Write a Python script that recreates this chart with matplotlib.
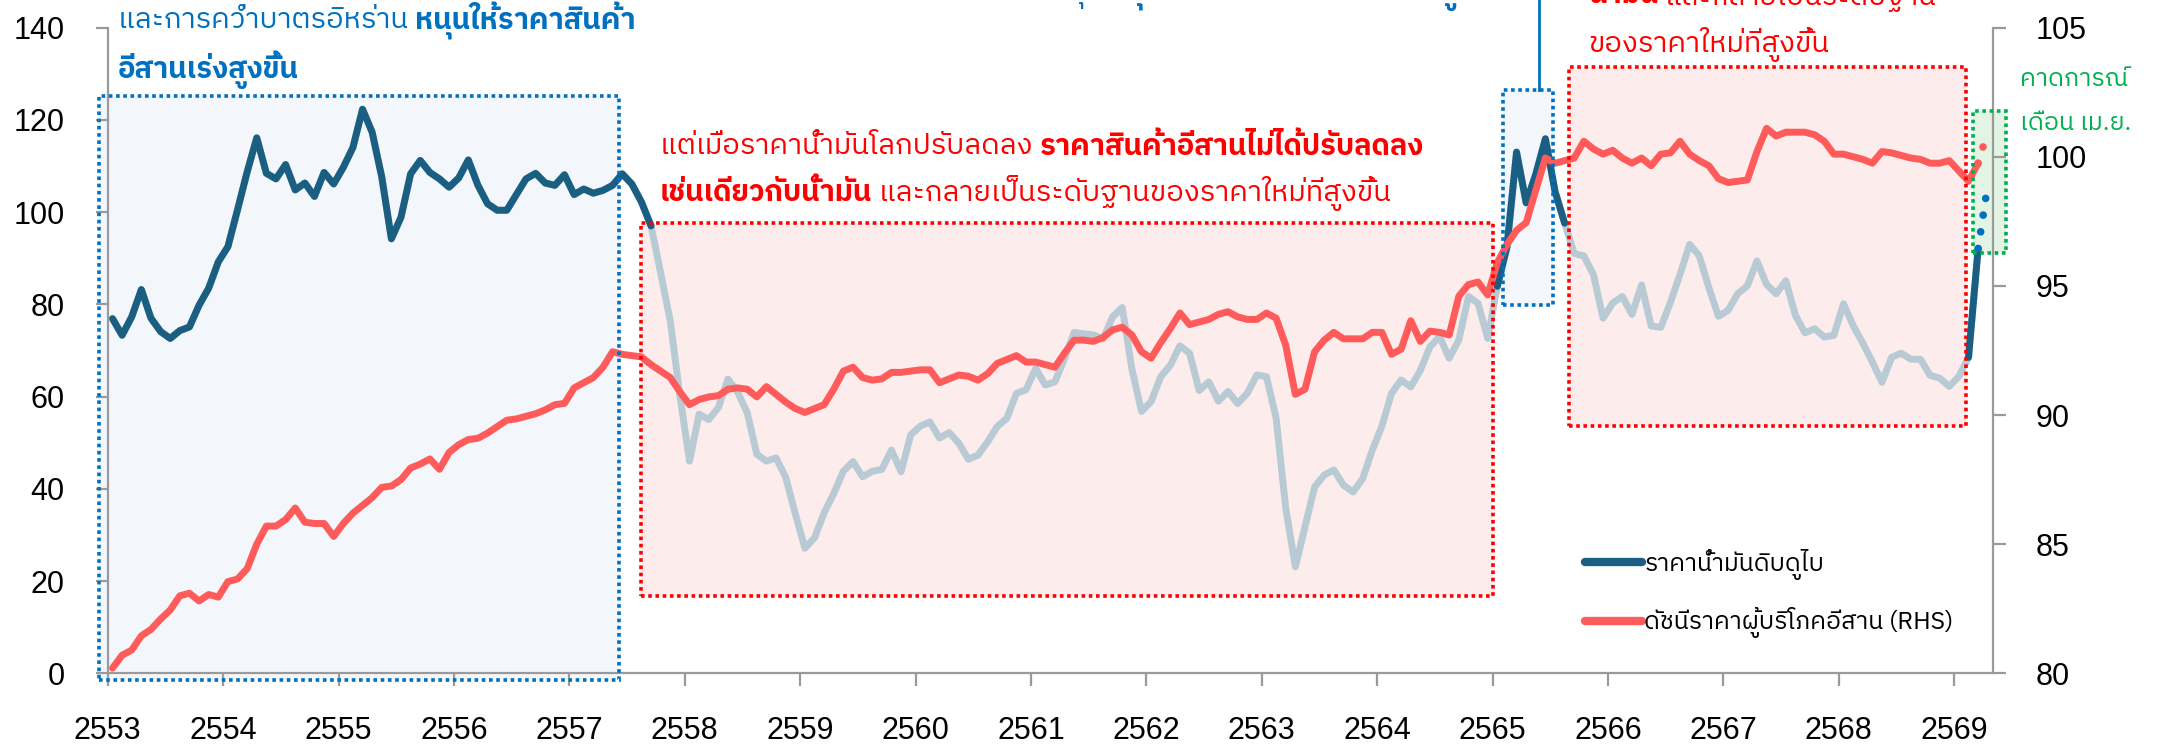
import matplotlib
matplotlib.use('Agg')
import matplotlib.pyplot as plt
from matplotlib import font_manager
from matplotlib.lines import Line2D
from matplotlib.patches import Rectangle
import numpy as np

W, H = 2162, 746

# ---- data (monthly, Jan 2553 - Mar 2569) ----
years = list(range(2553, 2570))
oil = [
    76.9, 73.3, 77.3, 83.2, 77.0, 74.1, 72.6, 74.3, 75.1, 79.8, 83.5, 89.2,
    92.5, 100.5, 108.7, 116.1, 108.4, 107.2, 110.3, 104.8, 106.3, 103.4, 108.6, 106.1,
    109.7, 114.0, 122.3, 117.3, 107.6, 94.2, 98.9, 108.3, 111.2, 108.6, 107.2, 105.4,
    107.4, 111.3, 105.8, 101.8, 100.4, 100.4, 103.8, 107.2, 108.4, 106.3, 105.8, 108.1,
    103.8, 105.0, 104.1, 104.7, 105.8, 108.3, 106.1, 102.2, 97.0, 86.8, 76.4, 60.2,
    46.0, 56.2, 55.0, 57.6, 63.8, 61.0, 56.5, 47.5, 46.0, 46.7, 42.5, 34.6,
    27.1, 29.4, 34.8, 39.0, 43.8, 45.9, 42.6, 43.8, 44.2, 48.4, 43.7, 51.7,
    53.6, 54.5, 51.0, 52.2, 49.9, 46.4, 47.3, 50.2, 53.5, 55.3, 60.7, 61.5,
    66.1, 62.5, 63.2, 68.3, 73.9, 73.6, 73.4, 72.5, 77.3, 79.3, 66.0, 56.8,
    58.9, 64.3, 66.8, 71.0, 69.4, 61.3, 63.2, 59.0, 61.1, 58.5, 60.7, 64.7,
    64.3, 55.3, 35.8, 23.1, 31.8, 40.4, 43.0, 44.1, 40.8, 39.3, 42.2, 48.4,
    53.6, 60.7, 63.6, 62.1, 65.7, 70.8, 73.0, 68.3, 72.3, 81.7, 80.2, 72.6,
    83.9, 92.4, 113.0, 102.0, 108.2, 115.9, 104.5, 97.6, 91.0, 90.5, 86.4, 77.0,
    80.3, 81.7, 77.8, 84.2, 75.3, 75.0, 80.4, 86.5, 93.0, 90.5, 83.6, 77.4,
    78.7, 82.3, 84.0, 89.4, 84.3, 82.3, 85.1, 77.6, 73.8, 74.7, 72.9, 73.3,
    80.1, 75.4, 71.6, 67.5, 63.1, 68.5, 69.4, 68.1, 68.1, 64.6, 64.0, 62.2,
    64.4, 68.5, 92.1,
]
cpi = [
    80.2, 80.7, 80.9, 81.45, 81.7, 82.1, 82.45, 83.0, 83.1, 82.8, 83.05, 82.95,
    83.55, 83.65, 84.05, 85.0, 85.7, 85.7, 85.95, 86.4, 85.85, 85.8, 85.8, 85.3,
    85.8, 86.2, 86.5, 86.8, 87.2, 87.25, 87.5, 87.95, 88.1, 88.3, 87.9, 88.55,
    88.85, 89.05, 89.1, 89.3, 89.55, 89.8, 89.85, 89.95, 90.05, 90.2, 90.4, 90.45,
    91.05, 91.25, 91.45, 91.85, 92.45, 92.35, 92.3, 92.25, 91.95, 91.7, 91.45, 90.9,
    90.4, 90.6, 90.7, 90.75, 91.0, 91.05, 91.0, 90.7, 91.1, 90.8, 90.5, 90.25,
    90.1, 90.25, 90.4, 91.0, 91.7, 91.85, 91.45, 91.35, 91.4, 91.65, 91.65, 91.7,
    91.75, 91.75, 91.25, 91.4, 91.55, 91.5, 91.35, 91.6, 92.0, 92.15, 92.3, 92.05,
    92.05, 91.95, 91.85, 92.4, 92.9, 92.9, 92.85, 93.0, 93.3, 93.4, 93.1, 92.45,
    92.2, 92.8, 93.35, 93.95, 93.5, 93.6, 93.7, 93.9, 94.0, 93.8, 93.7, 93.7,
    93.95, 93.75, 92.7, 90.8, 91.0, 92.45, 92.9, 93.2, 92.95, 92.95, 92.95, 93.2,
    93.2, 92.35, 92.55, 93.65, 92.85, 93.25, 93.2, 93.1, 94.6, 95.05, 95.15, 94.65,
    95.9, 96.6, 97.15, 97.45, 98.7, 99.95, 99.75, 99.85, 99.95, 100.6, 100.3, 100.1,
    100.25, 99.95, 99.75, 99.95, 99.65, 100.1, 100.15, 100.6, 100.1, 99.85, 99.65, 99.15,
    99.0, 99.05, 99.1, 100.2, 101.1, 100.8, 100.95, 100.95, 100.95, 100.85, 100.6, 100.1,
    100.1, 100.0, 99.9, 99.75, 100.2, 100.15, 100.05, 99.95, 99.9, 99.75, 99.75, 99.85,
    99.45, 99.05, 99.75,
]
# forecast for April 2569
oil_apr = 106.0
cpi_apr = 101.0

# months (index ranges) where the oil line is highlighted dark
dark_runs = [(0, 56), (144, 151), (193, 194)]

legend_labels = ['ราคาน้ำมันดิบดูไบ', 'ดัชนีราคาผู้บริโภคอีสาน (RHS)']

DARK = '#1a5f82'
GREY = '#b8cbd5'
RED = '#ff5b5b'
BLUE_T = '#0070c0'
RED_T = '#ff0000'
GREEN_T = '#00b050'


def pick_thai(prefs):
    # first preferred family that also has a bold face installed
    for name in prefs:
        weights = [f.weight for f in font_manager.fontManager.ttflist if f.name == name]
        if any(w in (600, 700, 800, 'bold', 'semibold') for w in weights):
            return name
    return 'DejaVu Sans'


THAI = pick_thai(['Noto Sans Thai', 'IBM Plex Sans Thai', 'Kanit', 'Anuphan'])
FAM = [THAI, 'DejaVu Sans']

plt.rcParams['font.family'] = ['Liberation Sans', 'DejaVu Sans']

fig = plt.figure(figsize=(W / 100, H / 100), dpi=100)
ax = fig.add_axes([107.7 / W, 1 - 673.3 / H, (1993 - 107.7) / W, (673.3 - 27.6) / H])
ax2 = ax.twinx()
ax.set_zorder(1)
ax2.set_zorder(2)
ax.patch.set_visible(False)

x = 2553 + (np.arange(len(oil)) + 0.5) / 12
x_fc = 2553 + (len(oil) + 0.5) / 12
oil_a = np.array(oil)

# highlight boxes (years, left-axis units)
boxes = [
    ((2552.925, -1.45), 2557.431 - 2552.925, 125.2 + 1.45, '#f3f7fb', BLUE_T),
    ((2557.621, 16.76), 2565.006 - 2557.621, 97.7 - 16.76, '#fdecec', RED_T),
    ((2565.095, 79.9), 2565.528 - 2565.095, 126.55 - 79.9, '#f3f7fb', BLUE_T),
    ((2565.663, 53.7), 2569.103 - 2565.663, 131.5 - 53.7, '#fdecec', RED_T),
    ((2569.163, 91.2), 2569.449 - 2569.163, 122.0 - 91.2, '#e4f4e4', GREEN_T),
]
for xy, w, h, fc, ec in boxes:
    ax.add_patch(Rectangle(xy, w, h, facecolor=fc, edgecolor='none', zorder=0, clip_on=False))
    r = Rectangle(xy, w, h, facecolor='none', edgecolor=ec, lw=2.6,
                  linestyle=(0, (1, 1)), zorder=6, clip_on=False, transform=ax.transData)
    ax2.add_patch(r)

# pointer line from the 2565 box
ax2.plot([2565.399, 2565.399], [126.55, 150], color=BLUE_T, lw=2, clip_on=False,
         transform=ax.transData, zorder=6)

# oil line
ax.plot(x, oil_a, color=GREY, lw=5, solid_joinstyle='round', solid_capstyle='round', zorder=3)
for a, b in dark_runs:
    ax.plot(x[a:b + 1], oil_a[a:b + 1], color=DARK, lw=5, solid_joinstyle='round',
            solid_capstyle='round', zorder=4)
ax.plot([x[-1], x_fc], [oil[-1], oil_apr], color=BLUE_T, lw=5.5,
        linestyle=(0, (0.01, 2.2)), dash_capstyle='round', zorder=5, clip_on=False)

# cpi line
ax2.plot(x, cpi, color=RED, lw=5, solid_joinstyle='round', solid_capstyle='round', zorder=4)
ax2.plot([x[-1], x_fc], [cpi[-1], cpi_apr], color=RED, lw=5.5,
         linestyle=(0, (0.01, 2.2)), dash_capstyle='round', zorder=5, clip_on=False)

# axes
ax.set_xlim(2553, 2553 + (1993 - 107.7) / 115.4)
ax.set_ylim(0, 140)
ax2.set_ylim(80, 105)
ax.set_xticks(years)
ax.set_xticklabels([str(y) for y in years])
ax.set_yticks(range(0, 141, 20))
ax2.set_yticks(range(80, 106, 5))
for a in (ax, ax2):
    for s in a.spines.values():
        s.set_color('#9a9a9a')
        s.set_linewidth(1.6)
    a.spines['top'].set_visible(False)
    a.tick_params(axis='both', length=9, width=1.6, color='#9a9a9a', labelsize=22, pad=22)
ax.spines['right'].set_visible(False)
ax2.spines['left'].set_visible(False)
ax2.spines['bottom'].set_visible(False)

# legend
handles = [Line2D([], [], color=DARK, lw=6, solid_capstyle='round'),
           Line2D([], [], color=RED, lw=6, solid_capstyle='round')]
ax2.legend(handles, legend_labels, loc='upper left', bbox_to_anchor=(1585 / W, 1 - 549 / H),
           bbox_transform=fig.transFigure, frameon=False, handlelength=2.3,
           handletextpad=0.1, labelspacing=1.1, borderpad=0, borderaxespad=0,
           prop={'family': FAM, 'size': 17.8})

renderer = fig.canvas.get_renderer()


def rich(px, py, parts, color, size=21):
    for s, w in parts:
        t = fig.text(px / W, 1 - py / H, s, color=color, fontsize=size, fontweight=w,
                     ha='left', va='center', family=FAM)
        px += t.get_window_extent(renderer).width


rich(118, 20.7, [('และการคว่ำบาตรอิหร่าน ', 'normal'), ('หนุนให้ราคาสินค้า', 'bold')], BLUE_T)
rich(118, 70, [('อีสานเร่งสูงขึ้น', 'bold')], BLUE_T)
rich(1000, -8, [('ราคาพุ่ง ', 'normal'), ('หนุนให้ราคาสินค้าอีสานเร่งสูงขึ้น', 'bold')], BLUE_T)
rich(660, 146.7, [('แต่เมื่อราคาน้ำมันโลกปรับลดลง ', 'normal'),
                  ('ราคาสินค้าอีสานไม่ได้ปรับลดลง', 'bold')], RED_T)
rich(660, 193, [('เช่นเดียวกับน้ำมัน', 'bold'),
                (' และกลายเป็นระดับฐานของราคาใหม่ที่สูงขึ้น', 'normal')], RED_T)
rich(1588, -5, [('น้ำมัน', 'bold'), (' และกลายเป็นระดับฐาน', 'normal')], RED_T)
rich(1588, 44, [('ของราคาใหม่ที่สูงขึ้น', 'normal')], RED_T)
rich(2020, 79, [('คาดการณ์', 'normal')], GREEN_T, 18)
rich(2020, 123, [('เดือน เม.ย.', 'normal')], GREEN_T, 18)

fig.savefig('out.png', dpi=100)
